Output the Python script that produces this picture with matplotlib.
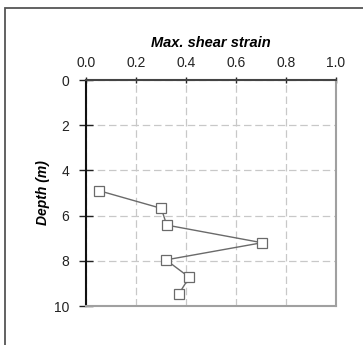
import matplotlib
matplotlib.use("Agg")
import matplotlib.pyplot as plt
from matplotlib.patches import Rectangle

plt.rcParams['font.family'] = ['Liberation Sans', 'DejaVu Sans']

strain = [0.053, 0.301, 0.323, 0.704, 0.320, 0.413, 0.371]
depth = [4.90, 5.68, 6.42, 7.20, 7.96, 8.73, 9.47]
xticks = [0.0, 0.2, 0.4, 0.6, 0.8, 1.0]
yticks = [0, 2, 4, 6, 8, 10]

fig = plt.figure(figsize=(3.63, 3.45), dpi=100)
fig.patch.set_facecolor('white')
# outer frame (cropped: only left and top visible)
fig.patches.append(Rectangle((4.5/363, -0.1), 1.2, 1.1 - 7.5/345,
                             transform=fig.transFigure, fill=False,
                             edgecolor='#555555', linewidth=1.3))

ax = fig.add_axes([86/363, 1-306/345, 250/363, 226/345])
ax.plot(strain, depth, color='#6a6a6a', linewidth=1.0, marker='s',
        markersize=7.5, markerfacecolor='white', markeredgecolor='#6a6a6a',
        markeredgewidth=0.9)
ax.set_xlim(0, 1.0)
ax.set_ylim(10, 0)
ax.set_xticks(xticks)
ax.set_xticklabels([f"{v:.1f}" for v in xticks])
ax.set_yticks(yticks)
ax.set_yticklabels([str(v) for v in yticks])
ax.xaxis.tick_top()
ax.xaxis.set_label_position('top')
ax.tick_params(axis='x', direction='inout', length=5, width=1, pad=4.5,
               labelsize=10, colors='#222222')
ax.tick_params(axis='y', direction='inout', length=10, width=1, pad=7,
               labelsize=10, colors='#222222')
ax.set_xlabel('Max. shear strain', fontsize=10.5, fontweight='bold',
              fontstyle='italic', labelpad=7)
ax.set_ylabel('Depth (m)', fontsize=10, fontweight='bold',
              fontstyle='italic', labelpad=3)
ax.grid(True, color='#c8c8c8', linestyle=(0, (6, 3)), linewidth=0.9)
ax.set_axisbelow(True)
ax.spines['left'].set_color('#111111')
ax.spines['left'].set_linewidth(1.5)
ax.spines['top'].set_color('#444444')
ax.spines['top'].set_linewidth(1.5)
ax.spines['right'].set_color('#a0a0a0')
ax.spines['right'].set_linewidth(1.5)
ax.spines['bottom'].set_color('#a0a0a0')
ax.spines['bottom'].set_linewidth(1.5)

fig.savefig('out.png', dpi=100)
